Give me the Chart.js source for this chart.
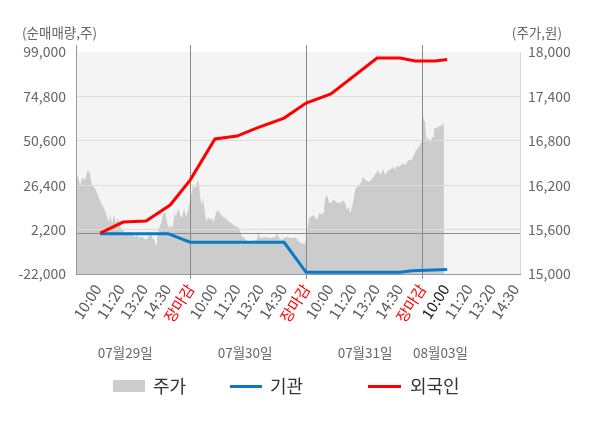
<!DOCTYPE html>
<html>
<head>
<meta charset="utf-8">
<script src="https://cdn.jsdelivr.net/npm/chart.js@4/dist/chart.umd.min.js"></script>
<style>
  body { margin: 0; background: #fff; }
</style>
</head>
<body>
<canvas id="flowChart" width="600" height="428"></canvas>
<script>
// x positions are in "tick slots": 0 = first 10:00 label, 1 per label
const xTickLabels = ['10:00', '11:20', '13:20', '14:30', '장마감',
  '10:00', '11:20', '13:20', '14:30', '장마감',
  '10:00', '11:20', '13:20', '14:30', '장마감',
  '10:00', '11:20', '13:20', '14:30'];
const dayLabels = ['07월29일', '07월30일', '07월31일', '08월03일'];
const seriesNames = ['주가', '기관', '외국인'];
const leftTicks = [-22000, 2200, 26400, 50600, 74800, 99000];
const rightTicks = [15000, 15600, 16200, 16800, 17400, 18000];

const priceTime = [-0.93, -0.84, -0.75, -0.67, -0.54, -0.45, -0.41, -0.32, -0.24, -0.11, -0.02, 0.06, 0.15, 0.28, 0.37, 0.41, 0.50, 0.54, 0.63, 0.71, 0.80, 0.88, 0.97,
  1.10, 1.23, 1.36, 1.49, 1.62, 1.70, 1.79, 1.88, 1.96, 2.09, 2.18, 2.26, 2.35, 2.44, 2.52, 2.56, 2.65, 2.74, 2.82, 2.91, 3.00, 3.08, 3.17, 3.25, 3.30, 3.38, 3.47, 3.56, 3.64, 3.73, 3.81, 3.90,
  3.99, 4.07, 4.12, 4.20, 4.29, 4.33, 4.38, 4.42, 4.50, 4.55, 4.63, 4.68, 4.76, 4.85, 4.94, 4.98, 5.06, 5.15, 5.24, 5.32, 5.41, 5.50, 5.58, 5.71, 5.80, 5.88, 5.97,
  6.06, 6.14, 6.23, 6.31, 6.40, 6.49, 6.57, 6.66, 6.75, 6.88, 6.92, 7.00, 7.13, 7.26, 7.34, 7.43, 7.52, 7.65, 7.74, 7.82, 7.95, 8.04, 8.17, 8.30, 8.43, 8.56, 8.69, 8.77, 8.86, 8.94,
  9.03, 9.12, 9.20, 9.29, 9.38, 9.46, 9.55, 9.63, 9.72, 9.76, 9.81, 9.89, 9.98, 10.06, 10.15, 10.24, 10.32, 10.41, 10.50, 10.58, 10.67, 10.75, 10.84, 10.88, 10.93,
  11.01, 11.10, 11.19, 11.27, 11.36, 11.44, 11.53, 11.62, 11.70, 11.79, 11.88, 11.96, 12.05, 12.09, 12.18, 12.26, 12.31, 12.39, 12.48, 12.57, 12.65, 12.74, 12.82, 12.91,
  13.00, 13.08, 13.17, 13.25, 13.34, 13.43, 13.51, 13.60, 13.69, 13.77, 13.86, 13.94, 13.99,
  14.03, 14.12, 14.16, 14.20, 14.29, 14.33, 14.42, 14.46, 14.50, 14.59, 14.68, 14.76, 14.85, 14.93];
const priceValues = [16340, 16310, 16200, 16300, 16270, 16380, 16410, 16340, 16200, 16160, 16090, 16030, 15960, 15890, 15800, 15770, 15700, 15800, 15690, 15800, 15690, 15760, 15640,
  15590, 15550, 15570, 15530, 15500, 15530, 15490, 15510, 15490, 15460, 15500, 15550, 15500, 15460, 15390, 15500, 15620, 15690, 15800, 15840, 15690, 15620, 15660, 15620, 15820, 15770, 15890, 15800, 15760, 15890, 15770, 15860,
  16000, 16110, 16200, 16160, 16240, 16270, 16200, 16040, 15930, 16030, 15820, 15700, 15770, 15730, 15760, 15690, 15770, 15860, 15840, 15800, 15770, 15760, 15730, 15700, 15680, 15660, 15640,
  15640, 15590, 15500, 15500, 15460, 15430, 15410, 15430, 15450, 15470, 15580, 15490, 15490, 15500, 15490, 15490, 15490, 15500, 15550, 15490, 15460, 15490, 15500, 15490, 15490, 15490, 15430, 15420, 15410, 15410,
  15570, 15760, 15770, 15800, 15760, 15730, 15820, 15810, 15820, 15890, 16030, 16070, 15970, 15960, 16000, 15990, 15960, 15970, 15960, 16000, 15960, 15860, 15910, 15820, 15860,
  15960, 16140, 16180, 16200, 16240, 16310, 16270, 16260, 16240, 16270, 16310, 16340, 16380, 16410, 16340, 16380, 16420, 16340, 16380, 16410, 16420, 16450, 16410, 16470,
  16450, 16470, 16500, 16470, 16510, 16540, 16540, 16570, 16650, 16690, 16720, 16770, 16780,
  17120, 17050, 16850, 16810, 16840, 16780, 16840, 16850, 16970, 16970, 16990, 17000, 17010, 17040];

const instTime = [0.11, 3.04, 3.99, 8.04, 8.99, 13.04, 13.56, 15.07];
const instValues = [0, 0, -4700, -4700, -21100, -21100, -20200, -19600];

const foreignTime = [0.11, 1.10, 2.09, 3.13, 3.99, 5.06, 6.01, 6.88, 8.04, 8.99, 10.06, 12.05, 13.04, 13.69, 14.55, 15.07];
const foreignValues = [300, 6300, 6900, 15600, 29200, 51600, 53200, 57600, 63000, 71200, 76100, 95700, 95700, 94100, 94100, 94900];

const FONT = "'Noto Sans CJK KR', 'Noto Sans', sans-serif";
const GRAY = '#cccccc';
const BLUE = '#0a7ac6';
const RED = '#ff0000';

const pairs = (xs, ys) => xs.map((x, i) => ({ x: x, y: ys[i] }));

const decor = {
  id: 'decor',
  beforeDraw(chart) {
    const { ctx, chartArea: a, scales } = chart;
    ctx.save();
    ctx.fillStyle = '#ffffff';
    ctx.fillRect(0, 0, chart.width, chart.height);
    const top = scales.y.getPixelForValue(leftTicks[leftTicks.length - 1]);
    ctx.fillStyle = '#f4f4f4';
    ctx.fillRect(a.left, top, a.right - a.left, a.bottom - top);
    ctx.strokeStyle = '#d8d8d8';
    ctx.lineWidth = 1;
    ctx.beginPath();
    ctx.moveTo(a.right + 0.5, top);
    ctx.lineTo(a.right + 0.5, a.bottom);
    ctx.stroke();
    ctx.restore();
  },
  // grid sits on top of the price area but under the two flow lines
  afterDatasetDraw(chart, args) {
    if (args.index !== 0) return;
    chart.scales.y.drawGrid(chart.chartArea);
    chart.scales.x.drawGrid(chart.chartArea);
    chart.scales.x.drawBorder();
    chart.scales.y.drawBorder();
  },
  afterDraw(chart) {
    const { ctx, scales } = chart;
    ctx.save();
    ctx.fillStyle = '#666';
    ctx.font = '13.5px ' + FONT;
    ctx.textBaseline = 'middle';
    ctx.textAlign = 'left';
    ctx.fillText('(순매매량,주)', 22, 33);
    ctx.textAlign = 'right';
    ctx.fillText('(주가,원)', 562, 33);

    ctx.textAlign = 'center';
    const dayPos = [1.19, 6.36, 11.53, 14.78];
    dayLabels.forEach((d, i) => {
      ctx.fillText(d, scales.x.getPixelForValue(dayPos[i]), 353);
    });

    // legend
    const ly = 386.5;
    ctx.font = '18px ' + FONT;
    ctx.textAlign = 'left';
    ctx.fillStyle = GRAY;
    ctx.fillRect(113, 380, 32, 12);
    ctx.fillStyle = '#333';
    ctx.fillText(seriesNames[0], 153, ly);
    ctx.lineWidth = 3;
    ctx.strokeStyle = BLUE;
    ctx.beginPath(); ctx.moveTo(230, ly); ctx.lineTo(262, ly); ctx.stroke();
    ctx.fillText(seriesNames[1], 270, ly);
    ctx.strokeStyle = RED;
    ctx.beginPath(); ctx.moveTo(368, ly); ctx.lineTo(401, ly); ctx.stroke();
    ctx.fillText(seriesNames[2], 410, ly);
    ctx.restore();
  }
};

new Chart(document.getElementById('flowChart'), {
  type: 'line',
  data: {
    datasets: [
      {
        label: seriesNames[0],
        data: pairs(priceTime, priceValues),
        yAxisID: 'y1',
        order: 3,
        fill: 'start',
        backgroundColor: GRAY,
        borderColor: 'transparent',
        borderWidth: 0,
        pointRadius: 0,
        tension: 0
      },
      {
        label: seriesNames[1],
        data: pairs(instTime, instValues),
        yAxisID: 'y',
        order: 2,
        borderColor: BLUE,
        borderWidth: 3,
        pointRadius: 0,
        fill: false,
        tension: 0
      },
      {
        label: seriesNames[2],
        data: pairs(foreignTime, foreignValues),
        yAxisID: 'y',
        order: 1,
        borderColor: RED,
        borderWidth: 3,
        pointRadius: 0,
        fill: false,
        tension: 0
      }
    ]
  },
  options: {
    responsive: false,
    animation: false,
    devicePixelRatio: 1,
    layout: { padding: { top: 45, left: 0, right: 0, bottom: 0 } },
    plugins: { legend: { display: false }, tooltip: { enabled: false } },
    scales: {
      x: {
        type: 'linear',
        min: -0.93,
        max: 18.21,
        afterBuildTicks: (axis) => { axis.ticks = xTickLabels.map((_, i) => ({ value: i })); },
        afterFit: (axis) => { axis.height = 154; },
        grid: {
          color: (c) => ([4, 9, 14].includes(c.tick && c.tick.value) ? '#888888' : 'transparent'),
          tickLength: 5
        },
        border: { color: '#999999' },
        ticks: {
          autoSkip: false,
          minRotation: 57,
          maxRotation: 57,
          padding: 2,
          font: { family: FONT, size: 15 },
          color: (c) => {
            const v = c.tick ? c.tick.value : 0;
            if (xTickLabels[v] === '장마감') return '#ff0000';
            if (v === 15) return '#222222';
            return '#5c5c5c';
          },
          callback: (v) => xTickLabels[v]
        }
      },
      y: {
        position: 'left',
        min: -22000,
        max: 102815,
        afterBuildTicks: (axis) => { axis.ticks = leftTicks.concat([0]).map(v => ({ value: v })); },
        afterFit: (axis) => { axis.width = 76; },
        grid: {
          drawTicks: false,
          color: (c) => {
            const v = c.tick ? c.tick.value : null;
            if (v === 0) return '#8c8c8c';
            if (v === 99000) return 'transparent';
            return '#dcdcdc';
          }
        },
        border: { color: '#999999' },
        ticks: {
          padding: 10,
          font: { family: FONT, size: 14 },
          color: '#666666',
          callback: (v) => (v === 0 ? '' : v.toLocaleString('en-US'))
        }
      },
      y1: {
        position: 'right',
        min: 15000,
        max: 18095,
        afterBuildTicks: (axis) => { axis.ticks = rightTicks.map(v => ({ value: v })); },
        afterFit: (axis) => { axis.width = 80; },
        grid: { display: false, drawTicks: false },
        border: { display: false },
        ticks: {
          padding: 8,
          font: { family: FONT, size: 14 },
          color: '#666666',
          callback: (v) => v.toLocaleString('en-US')
        }
      }
    }
  },
  plugins: [decor]
});
</script>
</body>
</html>
